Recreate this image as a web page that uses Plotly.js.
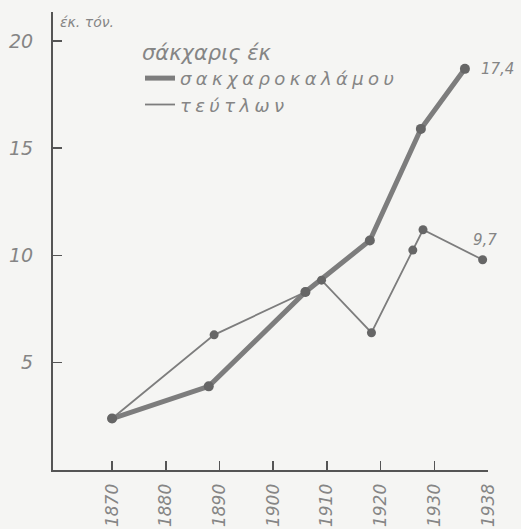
<!DOCTYPE html>
<html>
<head>
<meta charset="utf-8">
<script src="https://cdn.plot.ly/plotly-3.0.1.min.js"></script>
<style>
  html, body { margin: 0; padding: 0; background: #f5f5f3; }
  #chart { width: 521px; height: 529px; }
  #chart .legendtext { letter-spacing: 4.4px; }
  #chart .legend, #chart .legend * { clip-path: none !important; }
</style>
</head>
<body>
<div id="chart"></div>
<script>
// Sugar production (million tons)
var caneYears  = [1870, 1888, 1906, 1918, 1927.5, 1935.7];
var caneValues = [2.4, 3.9, 8.3, 10.7, 15.9, 18.7];

var beetYears  = [1870, 1889, 1906, 1909, 1918.3, 1926, 1927.9, 1939];
var beetValues = [2.4, 6.3, 8.3, 8.85, 6.4, 10.25, 11.2, 9.8];

var xTickVals  = [1870, 1880, 1890, 1900, 1910, 1920, 1930, 1940];
var xTickText  = ['1870', '1880', '1890', '1900', '1910', '1920', '1930', '1938'];
var yTickVals  = [5, 10, 15, 20];
var yTickText  = ['5', '10', '15', '20'];

var legendTitle = 'σάκχαρις έκ';
var caneName = 'σακχαροκαλάμου';
var beetName = 'τεύτλων';
var unitLabel = 'έκ. τόν.';
var caneEndLabel = '17,4';
var beetEndLabel = '9,7';

var hand = 'DejaVu Sans, Noto Sans, sans-serif';
var inkText = '#858585';
var inkLine = '#7d7d7d';
var inkDot = '#666666';

var traces = [
  {
    x: caneYears, y: caneValues, type: 'scatter', mode: 'lines',
    name: caneName,
    line: { color: inkLine, width: 5 },
    showlegend: true, hoverinfo: 'skip'
  },
  {
    x: beetYears, y: beetValues, type: 'scatter', mode: 'lines',
    name: beetName,
    line: { color: inkLine, width: 1.8 },
    showlegend: true, hoverinfo: 'skip'
  },
  {
    x: caneYears, y: caneValues, type: 'scatter', mode: 'markers',
    marker: { color: inkDot, size: 10 }, showlegend: false, hoverinfo: 'skip'
  },
  {
    x: beetYears, y: beetValues, type: 'scatter', mode: 'markers',
    marker: { color: inkDot, size: 9 }, showlegend: false, hoverinfo: 'skip'
  }
];

var layout = {
  width: 521, height: 529,
  paper_bgcolor: '#f5f5f3',
  plot_bgcolor: '#f5f5f3',
  margin: { l: 53, r: 33, t: 12, b: 59, pad: 0 },
  font: { family: hand, color: inkText, style: 'italic' },
  xaxis: {
    range: [1859, 1940],
    tickvals: xTickVals, ticktext: xTickText,
    tickangle: -90,
    ticks: 'inside', ticklen: 9, tickwidth: 1.5, tickcolor: '#555',
    showline: true, linecolor: '#555', linewidth: 2,
    showgrid: false, zeroline: false,
    tickfont: { family: hand, size: 17, color: inkText, style: 'italic' },
    ticklabelstandoff: 5
  },
  yaxis: {
    range: [0, 21.35],
    tickvals: yTickVals, ticktext: yTickText,
    ticks: 'inside', ticklen: 9, tickwidth: 1.5, tickcolor: '#555',
    showline: true, linecolor: '#555', linewidth: 2,
    showgrid: false, zeroline: false,
    tickfont: { family: hand, size: 19, color: inkText, style: 'italic' },
    ticklabelstandoff: 14
  },
  showlegend: true,
  legend: {
    x: 0.2, y: 0.955, xanchor: 'left', yanchor: 'top',
    bgcolor: 'rgba(0,0,0,0)', borderwidth: 0,
    title: { text: legendTitle, font: { family: hand, size: 21, color: inkText, style: 'italic' } },
    font: { family: hand, size: 18, color: inkText, style: 'italic' },
    itemwidth: 30, tracegroupgap: 0
  },
  annotations: [
    { xref: 'paper', yref: 'paper', x: 0, y: 1, xanchor: 'left', yanchor: 'top',
      xshift: 5, yshift: 0, showarrow: false, text: unitLabel,
      font: { family: hand, size: 14, color: inkText, style: 'italic' } },
    { x: caneYears[caneYears.length - 1], y: caneValues[caneValues.length - 1],
      xanchor: 'left', yanchor: 'middle', xshift: 14, showarrow: false,
      text: caneEndLabel, font: { family: hand, size: 15, color: inkText, style: 'italic' } },
    { x: beetYears[beetYears.length - 1], y: beetValues[beetValues.length - 1],
      xanchor: 'center', yanchor: 'bottom', xshift: 2, yshift: 9, showarrow: false,
      text: beetEndLabel, font: { family: hand, size: 15, color: inkText, style: 'italic' } }
  ]
};

Plotly.newPlot('chart', traces, layout, { staticPlot: true, displayModeBar: false });
</script>
</body>
</html>
